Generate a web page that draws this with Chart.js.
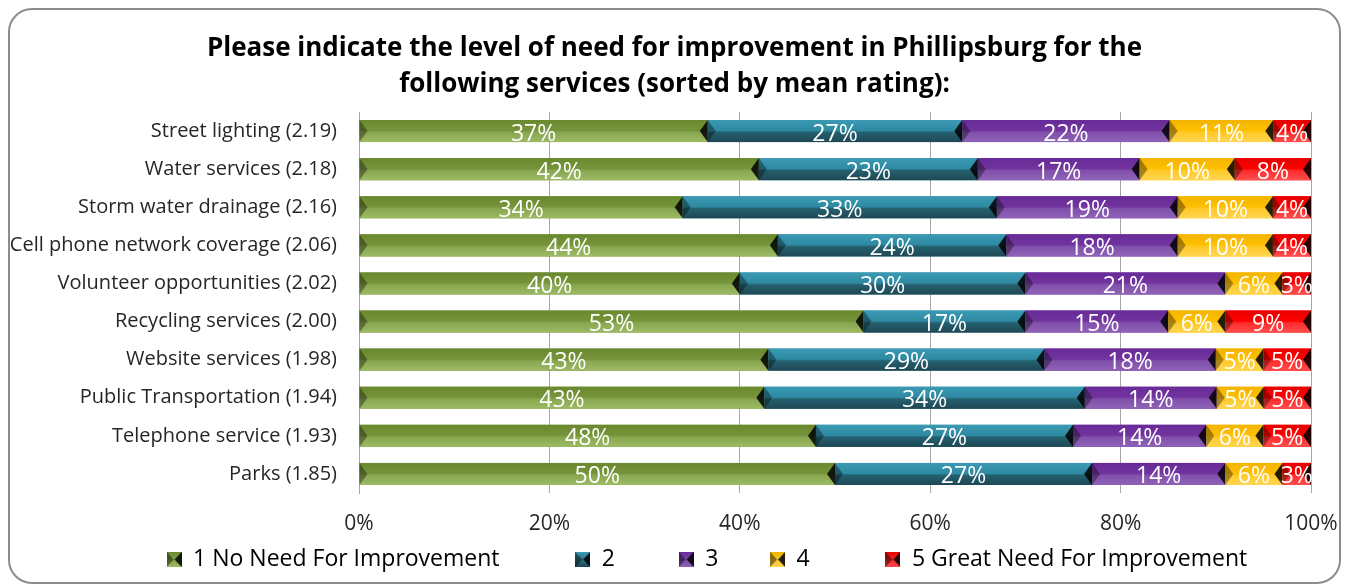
<!DOCTYPE html>
<html lang="en">

<head>
    <meta charset="UTF-8" />
    <title>Need for improvement - Phillipsburg</title>
    <script src="https://cdn.jsdelivr.net/npm/chart.js"></script>
    <style>
        body {
            margin: 0;
            background-color: #ffffff;
            font-family: 'Open Sans', Arial, sans-serif;
        }

        .frame {
            position: absolute;
            left: 8px;
            top: 8px;
            width: 1329px;
            height: 572px;
            border: 2px solid #8c8c8c;
            border-radius: 24px;
        }

        .wrap {
            position: absolute;
            left: 0;
            top: 0;
        }
    </style>
</head>

<body>
    <div class="frame"></div>
    <div class="wrap">
        <canvas id="needChart" width="1349" height="588"></canvas>
    </div>

    <script>
        // data
        const categories = [
            'Street lighting (2.19)',
            'Water services (2.18)',
            'Storm water drainage (2.16)',
            'Cell phone network coverage (2.06)',
            'Volunteer opportunities (2.02)',
            'Recycling services (2.00)',
            'Website services (1.98)',
            'Public Transportation (1.94)',
            'Telephone service (1.93)',
            'Parks (1.85)'
        ];
        const seriesNames = ['1 No Need For Improvement', '2', '3', '4', '5 Great Need For Improvement'];
        const level1 = [37, 42, 34, 44, 40, 53, 43, 43, 48, 50];
        const level2 = [27, 23, 33, 24, 30, 17, 29, 34, 27, 27];
        const level3 = [22, 17, 19, 18, 21, 15, 18, 14, 14, 14];
        const level4 = [11, 10, 10, 10, 6, 6, 5, 5, 6, 6];
        const level5 = [4, 8, 4, 4, 3, 9, 5, 5, 5, 3];
        const xTickValues = [0, 20, 40, 60, 80, 100];

        const series = [level1, level2, level3, level4, level5];
        const baseColors = ['#77933C', '#31859C', '#7030A0', '#FFC000', '#FF0000'];
        // top -> bottom shading for the bevel look
        const shades = [
            ['#6a892f', '#76953a', '#88a650', '#9dba64'],
            ['#3b9ab4', '#2e89a2', '#24606f', '#1f4754'],
            ['#672a97', '#72359f', '#8150ab', '#8f63b7'],
            ['#f2b400', '#ffc000', '#ffc928', '#ffd552'],
            ['#e80000', '#ff0000', '#ff2b2b', '#ff4d4d']
        ];
        // spaces after each legend entry, excel spreads them unevenly
        const legendGaps = [12, 10, 8, 12, 10];
        const FONT = '"Open Sans", Arial, sans-serif';

        // little bow-tie swatch like the excel legend
        function swatch(k) {
            const c = document.createElement('canvas');
            c.width = 15;
            c.height = 15;
            const g = c.getContext('2d');
            const grad = g.createLinearGradient(0, 0, 0, 15);
            grad.addColorStop(0, shades[k][0]);
            grad.addColorStop(1, shades[k][3]);
            g.fillStyle = grad;
            g.fillRect(0, 0, 15, 15);
            g.fillStyle = 'rgba(0,0,0,0.45)';
            g.beginPath();
            g.moveTo(0, 0); g.lineTo(7, 7.5); g.lineTo(0, 15); g.closePath();
            g.fill();
            g.fillStyle = 'rgba(0,0,0,0.85)';
            g.beginPath();
            g.moveTo(15, 0); g.lineTo(8, 7.5); g.lineTo(15, 15); g.closePath();
            g.fill();
            return c;
        }

        // excel draws a 100% stacked bar, so scale every row to its total
        const totals = categories.map((c, i) => series.reduce((s, arr) => s + arr[i], 0));

        const datasets = series.map((arr, k) => ({
            label: seriesNames[k],
            data: arr.map((v, i) => v / totals[i] * 100),
            raw: arr,
            backgroundColor: baseColors[k],
            pointStyle: swatch(k),
            borderWidth: 0,
            barPercentage: 0.58,
            categoryPercentage: 1.0
        }));

        // the excel title sits in the middle of the whole frame, not the plot
        const centerTitle = {
            id: 'centerTitle',
            afterLayout(chart) {
                if (chart.titleBlock) {
                    chart.titleBlock.left = 0;
                    chart.titleBlock.right = chart.width;
                }
            }
        };

        const bevelBars = {
            id: 'bevelBars',
            afterDatasetsDraw(chart) {
                const ctx = chart.ctx;
                ctx.save();
                chart.data.datasets.forEach((ds, di) => {
                    const meta = chart.getDatasetMeta(di);
                    meta.data.forEach((bar) => {
                        const p = bar.getProps(['x', 'y', 'base', 'height'], true);
                        const l = Math.min(p.x, p.base), r = Math.max(p.x, p.base);
                        const t = p.y - p.height / 2, b = p.y + p.height / 2;
                        const g = ctx.createLinearGradient(0, t, 0, b);
                        g.addColorStop(0, shades[di][0]);
                        g.addColorStop(0.48, shades[di][1]);
                        g.addColorStop(0.56, shades[di][2]);
                        g.addColorStop(1, shades[di][3]);
                        ctx.fillStyle = g;
                        ctx.fillRect(l, t, r - l, b - t);

                        // bevel notches at both ends
                        const w = Math.min(8, (r - l) / 2);
                        ctx.fillStyle = 'rgba(0,0,0,0.35)';
                        ctx.beginPath();
                        ctx.moveTo(l, t);
                        ctx.lineTo(l + w, p.y);
                        ctx.lineTo(l, b);
                        ctx.closePath();
                        ctx.fill();
                        ctx.fillStyle = 'rgba(0,0,0,0.85)';
                        ctx.beginPath();
                        ctx.moveTo(r, t);
                        ctx.lineTo(r - w, p.y);
                        ctx.lineTo(r, b);
                        ctx.closePath();
                        ctx.fill();
                    });
                });

                // value labels go on top of every segment
                ctx.fillStyle = '#ffffff';
                ctx.font = '23px ' + FONT;
                ctx.textAlign = 'center';
                ctx.textBaseline = 'middle';
                chart.data.datasets.forEach((ds, di) => {
                    const meta = chart.getDatasetMeta(di);
                    meta.data.forEach((bar, i) => {
                        const p = bar.getProps(['x', 'y', 'base'], true);
                        ctx.fillText(ds.raw[i] + '%', (p.x + p.base) / 2, p.y + 3);
                    });
                });
                ctx.restore();
            }
        };

        const ctx = document.getElementById('needChart').getContext('2d');
        new Chart(ctx, {
            type: 'bar',
            data: {
                labels: categories,
                datasets: datasets
            },
            options: {
                indexAxis: 'y',
                responsive: false,
                animation: false,
                layout: {
                    padding: { left: 0, right: 38, top: 0, bottom: 7 }
                },
                plugins: {
                    title: {
                        display: true,
                        text: ['Please indicate the level of need for improvement in Phillipsburg for the',
                            'following services (sorted by mean rating):'],
                        color: '#000000',
                        font: { family: FONT, size: 26, weight: 'bold', lineHeight: 1.385 },
                        padding: { top: 31, bottom: 9 }
                    },
                    legend: {
                        display: true,
                        position: 'bottom',
                        align: 'end',
                        labels: {
                            color: '#000000',
                            font: { family: FONT, size: 23 },
                            usePointStyle: true,
                            boxWidth: 15,
                            boxHeight: 15,
                            padding: 4,
                            generateLabels(chart) {
                                const items = Chart.defaults.plugins.legend.labels.generateLabels(chart);
                                items.forEach((it, i) => {
                                    it.text = it.text + ' '.repeat(legendGaps[i]);
                                });
                                return items;
                            }
                        }
                    },
                    tooltip: { enabled: false }
                },
                scales: {
                    x: {
                        stacked: true,
                        min: 0,
                        max: 100,
                        afterBuildTicks(scale) {
                            scale.ticks = xTickValues.map(v => ({ value: v }));
                        },
                        afterFit(scale) {
                            scale.height = 51;
                            // let the end labels hang over, the layout padding covers it
                            scale.paddingLeft = 0;
                            scale.paddingRight = 0;
                        },
                        ticks: {
                            color: '#262626',
                            font: { family: FONT, size: 21 },
                            padding: 18,
                            callback: v => v + '%'
                        },
                        grid: { color: '#a6a6a6', drawTicks: false },
                        border: { display: false }
                    },
                    y: {
                        stacked: true,
                        afterFit(scale) {
                            scale.width = 359;
                        },
                        ticks: {
                            color: '#262626',
                            font: { family: FONT, size: 20 },
                            padding: 22
                        },
                        grid: { display: false, drawTicks: false },
                        border: { display: true, color: '#a6a6a6' }
                    }
                }
            },
            plugins: [centerTitle, bevelBars]
        });
    </script>
</body>

</html>
